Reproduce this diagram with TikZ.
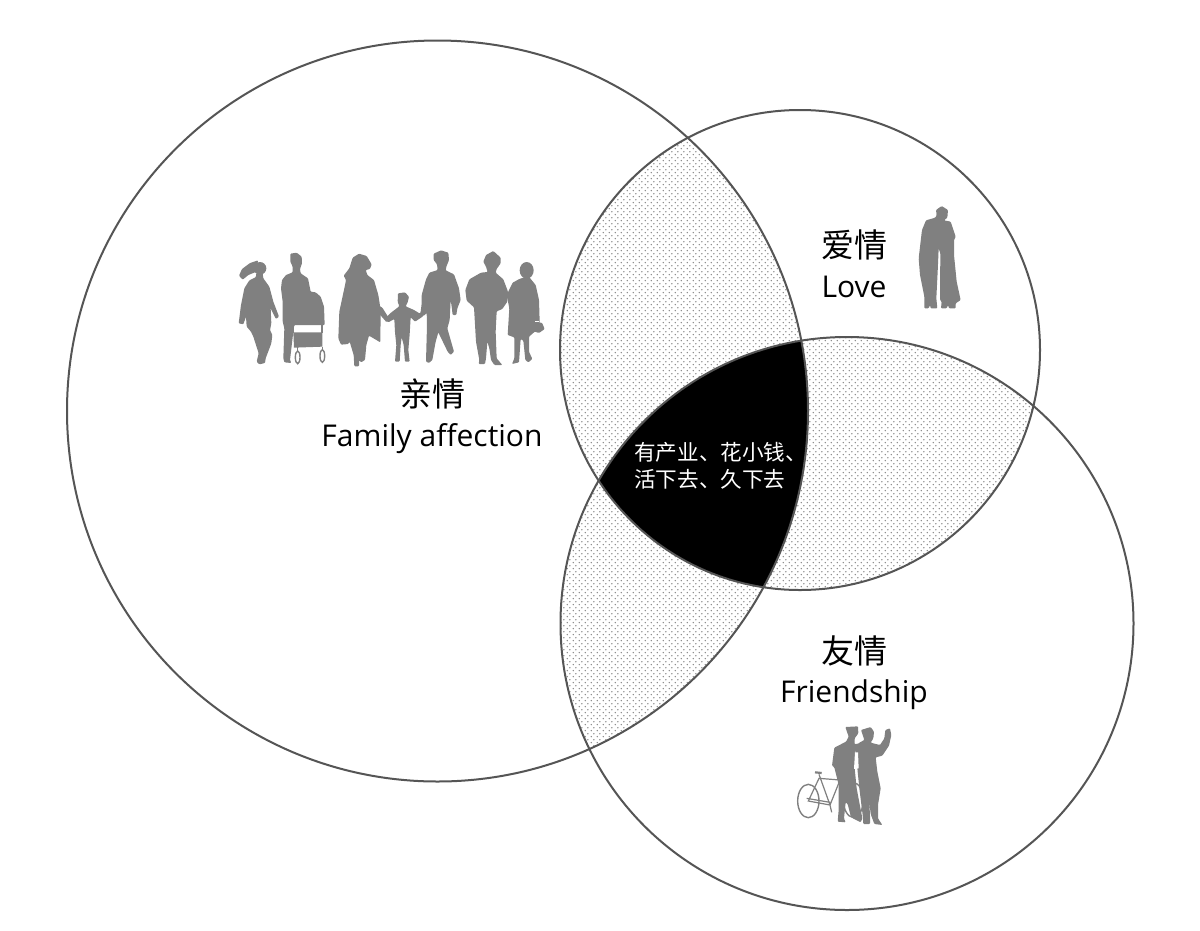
\documentclass[tikz,border=0pt]{standalone}
\usepackage{fontspec}
\usetikzlibrary{patterns}
\setmainfont{Open Sans}
\newfontfamily\cjk{Noto Sans CJK SC}
\definecolor{ringgray}{HTML}{555555}
\definecolor{silgray}{HTML}{808080}
\definecolor{dotgray}{HTML}{858585}
\pgfdeclarepatternformonly{softdots}{\pgfqpoint{0pt}{0pt}}{\pgfqpoint{5.6pt}{5.8pt}}{\pgfqpoint{5.6pt}{5.8pt}}{%
  \pgfpathcircle{\pgfqpoint{1.4pt}{1.45pt}}{0.78pt}%
  \pgfpathcircle{\pgfqpoint{4.2pt}{4.35pt}}{0.78pt}%
  \pgfusepath{fill}}
\tikzset{
  ring/.style={draw=ringgray,line width=2pt},
  sil/.style={fill=silgray,rounded corners=0.9pt},
  cjklabel/.style={font=\cjk\fontsize{33}{36}\selectfont,inner sep=0pt,text=black},
  latlabel/.style={font=\fontsize{30}{34}\selectfont,inner sep=0pt,text=black,anchor=base},
  corelabel/.style={font=\cjk\fontsize{21.6}{27}\selectfont,inner sep=0pt,text=white,anchor=west},
  zoomA/.style={x=0.33333pt,y=-0.33333pt}
}
\def\ringA{(437.5,411) circle[radius=370.5]}
\def\ringB{(800,350) circle[radius=240]}
\def\ringC{(847,623.5) circle[radius=286.5]}
\begin{document}
\begin{tikzpicture}[x=1pt,y=-1pt]
\useasboundingbox (0,0) rectangle (1200,930);
\fill[white] (0,0) rectangle (1200,930);
% dotted lenses
\begin{scope}\clip \ringA;\clip \ringB;\fill[pattern=softdots,pattern color=dotgray] (0,0) rectangle (1200,930);\end{scope}
\begin{scope}\clip \ringA;\clip \ringC;\fill[pattern=softdots,pattern color=dotgray] (0,0) rectangle (1200,930);\end{scope}
\begin{scope}\clip \ringB;\clip \ringC;\fill[pattern=softdots,pattern color=dotgray] (0,0) rectangle (1200,930);\end{scope}
% core
\begin{scope}\clip \ringA;\clip \ringB;\clip \ringC;\fill[black] (0,0) rectangle (1200,930);\end{scope}
\draw[ring] \ringA;
\draw[ring] \ringB;
\draw[ring] \ringC;
% labels
\node[cjklabel] (fam) at (432,394) {亲情};
\node[latlabel] (famen) at (432,446) {Family affection};
\node[cjklabel] (lov) at (854,245) {爱情};
\node[latlabel] (loven) at (854,297) {Love};
\node[cjklabel] (fri) at (854,651) {友情};
\node[latlabel] (frien) at (854,702) {Friendship};
\node[corelabel] (core1) at (634,452) {有产业、花小钱、};
\node[corelabel] (core2) at (634,479) {活下去、久下去};
% girl, father with pram
\begin{scope}[shift={(230,245)},zoomA]
\fill[silgray] (90,70) circle[radius=19];
\fill[sil] (84,46)--(60,54)--(36,72)--(27,92)--(38,104)--(55,90)--(80,80)--cycle;
\fill[sil] (78,85)--(98,85)--(100,100)--(118,125)--(130,170)--(147,215)--(138,222)--(122,190)--(124,235)--(120,255)--(127,270)--(124,295)--(107,340)--(105,354)--(88,358)--(80,350)--(86,325)--(70,275)--(63,260)--(50,245)--(48,215)--(40,238)--(26,235)--(33,180)--(43,130)--(58,106)--(78,96)--cycle;
\fill[sil] (181,26)--(200,23)--(215,35)--(216,55)--(210,72)--(212,85)--(234,100)--(242,140)--(257,142)--(272,155)--(282,185)--(284,240)--(193,240)--(190,260)--(180,345)--(184,354)--(163,352)--(160,340)--(163,250)--(158,230)--(158,170)--(153,130)--(156,105)--(168,90)--(188,82)--(188,65)--(181,50)--cycle;
\fill[silgray] (190,262)--(277,262)--(277,305)--(192,308)--cycle;
\draw[silgray,line width=1.6pt] (190,240)--(190,265) (276,240)--(276,265) (203,305)--(203,320) (277,305)--(277,315);
\draw[silgray,line width=1.4pt] (203,337) ellipse[x radius=7,y radius=19] (277,333) ellipse[x radius=7,y radius=19];
\end{scope}
% mother, child, father
\begin{scope}[shift={(335,245)},zoomA]
\fill[sil] (72,26)--(95,33)--(110,58)--(105,72)--(92,75)--(97,90)--(117,105)--(130,150)--(137,195)--(136,292)--(102,272)--(94,300)--(90,345)--(78,352)--(72,345)--(72,364)--(58,364)--(56,330)--(44,290)--(40,297)--(18,299)--(10,280)--(13,200)--(28,130)--(33,105)--(26,92)--(43,70)--(53,38)--cycle;
\fill[sil] (125,178)--(142,188)--(162,220)--(155,232)--(133,207)--(126,197)--cycle;
\fill[sil] (189,145)--(210,142)--(222,155)--(218,172)--(212,184)--(237,195)--(255,206)--(262,190)--(270,195)--(264,214)--(240,230)--(227,217)--(224,268)--(220,315)--(224,350)--(210,350)--(206,300)--(200,277)--(197,300)--(194,350)--(180,350)--(184,300)--(180,262)--(178,222)--(160,232)--(148,222)--(168,203)--(193,184)--(188,170)--cycle;
\fill[sil] (296,26)--(318,16)--(340,23)--(342,45)--(334,65)--(332,76)--(357,88)--(372,130)--(377,165)--(367,190)--(364,210)--(353,210)--(350,185)--(347,165)--(344,225)--(337,250)--(347,285)--(357,320)--(347,330)--(338,320)--(310,262)--(302,290)--(292,345)--(282,354)--(273,350)--(276,240)--(275,203)--(268,212)--(256,210)--(260,175)--(260,150)--(273,103)--(283,83)--(308,75)--(306,58)--(296,45)--cycle;
\end{scope}
% grandparents
\begin{scope}[shift={(460,245)},zoomA]
\fill[sil] (78,30)--(100,18)--(122,38)--(122,55)--(110,72)--(107,83)--(130,103)--(144,140)--(142,170)--(127,192)--(110,199)--(107,260)--(110,340)--(127,360)--(103,360)--(93,345)--(88,310)--(82,290)--(78,340)--(75,357)--(56,357)--(58,345)--(48,290)--(42,187)--(20,167)--(16,135)--(28,103)--(63,83)--(83,81)--(78,65)--(70,50)--cycle;
\fill[silgray] (200,76) ellipse[x radius=21,y radius=25];
\fill[sil] (178,102)--(205,93)--(227,120)--(237,165)--(239,230)--(237,252)--(222,262)--(207,275)--(207,320)--(217,342)--(205,352)--(196,345)--(190,287)--(182,282)--(177,352)--(156,357)--(163,340)--(163,277)--(143,270)--(148,190)--(140,150)--(158,113)--cycle;
\fill[sil] (220,233)--(246,233)--(254,252)--(237,264)--(216,257)--cycle;
\fill[white] (226,229) rectangle (238,232);
\end{scope}
% couple
\begin{scope}[shift={(900,195)},zoomA]
\fill[sil] (108,45)--(125,33)--(144,45)--(142,68)--(132,76)--(152,80)--(157,95)--(167,125)--(162,135)--(162,180)--(170,260)--(182,315)--(167,325)--(167,340)--(147,340)--(144,330)--(140,340)--(123,340)--(125,320)--(120,315)--(121,175)--(116,160)--(113,230)--(109,310)--(112,340)--(92,340)--(90,330)--(86,340)--(73,340)--(73,305)--(60,240)--(56,190)--(63,130)--(66,105)--(78,76)--(106,68)--(110,60)--cycle;
\end{scope}
% friends with bicycle
\begin{scope}[shift={(780,715)},zoomA]
\draw[silgray,line width=1.4pt] (85,258) ellipse[x radius=32,y radius=50] (220,255) ellipse[x radius=30,y radius=52];
\draw[silgray,line width=1.2pt] (117,178)--(150,270)--(180,195)--(117,190)--(85,258)--(150,270)--(155,292) (80,250)--(150,262);
\draw[silgray,line width=2.2pt] (105,172)--(125,174);
\fill[sil] (196,36)--(234,34)--(235,55)--(224,70)--(224,88)--(237,85)--(227,105)--(224,160)--(230,220)--(247,310)--(242,322)--(213,307)--(203,267)--(197,262)--(192,310)--(197,322)--(173,320)--(176,285)--(176,210)--(163,157)--(156,152)--(163,98)--(198,80)--(206,65)--cycle;
\fill[sil] (243,45)--(272,36)--(282,50)--(280,70)--(272,83)--(300,90)--(313,70)--(316,45)--(330,40)--(334,60)--(327,92)--(307,122)--(287,127)--(292,170)--(302,220)--(294,270)--(294,310)--(307,330)--(283,327)--(272,297)--(267,250)--(270,300)--(270,327)--(250,327)--(248,300)--(238,220)--(233,170)--(228,110)--(220,100)--(238,83)--(253,75)--cycle;
\fill[white] (225,112)--(234,112)--(236,160)--(222,162)--cycle;
\end{scope}
\end{tikzpicture}
\end{document}
